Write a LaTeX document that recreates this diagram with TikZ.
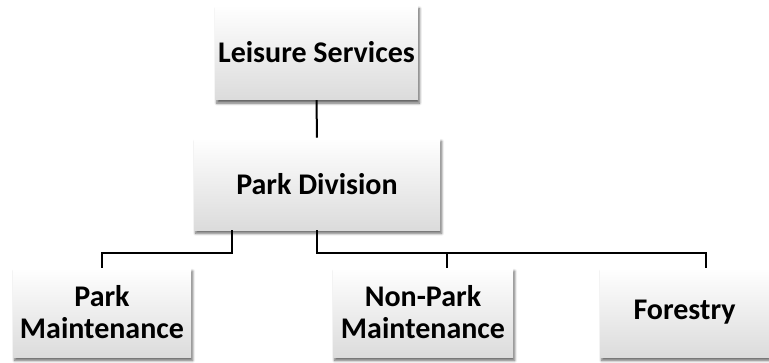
\documentclass[tikz,border=0pt]{standalone}
\usepackage{fontspec}
\setmainfont{Carlito}
\usetikzlibrary{positioning,calc,shadows.blur}

\begin{document}
\begin{tikzpicture}[
    x=0.75pt, y=-0.75pt,
    unit/.style={
        rectangle,
        top color=white,
        middle color=white,
        bottom color=black!14,
        blur shadow={shadow xshift=1.2pt, shadow yshift=-2.5pt, shadow blur steps=6, shadow opacity=60},
        minimum height=67pt,
        align=center,
        inner sep=2pt,
        font=\fontsize{22.5}{24}\selectfont\bfseries
    },
    link/.style={line width=1.5pt, black}
]
    \useasboundingbox (0,0) rectangle (769,362);
    % Boxes
    \node[unit, minimum width=152pt, minimum height=71pt] (leisure) at (316.5,52.5) {Leisure Services};
    \node[unit, minimum width=184.5pt, minimum height=69pt] (division) at (317,184) {Park Division};
    \node[unit, minimum width=133.5pt] (parkmaint) at (102,312.5) {Park\\Maintenance};
    \node[unit, minimum width=135pt] (nonpark) at (423,312.5) {Non-Park\\Maintenance};
    \node[unit, minimum width=126.75pt] (forestry) at (684.5,312.5) {Forestry};

    % Connectors
    \coordinate (leftjoin) at (232,253);
    \coordinate (rightjoin) at (317,253);
    \coordinate (nonparktop) at (447,253);
    \coordinate (forestrytop) at (706,253);

    \draw[link] (leisure.south) -- (division.north);
    \draw[link] (division.south -| leftjoin) -- (leftjoin) -| (parkmaint.north);
    \draw[link] (division.south) -- (rightjoin) -- (forestrytop) -- (forestrytop |- forestry.north);
    \draw[link] (nonparktop) -- (nonparktop |- nonpark.north);
\end{tikzpicture}
\end{document}
